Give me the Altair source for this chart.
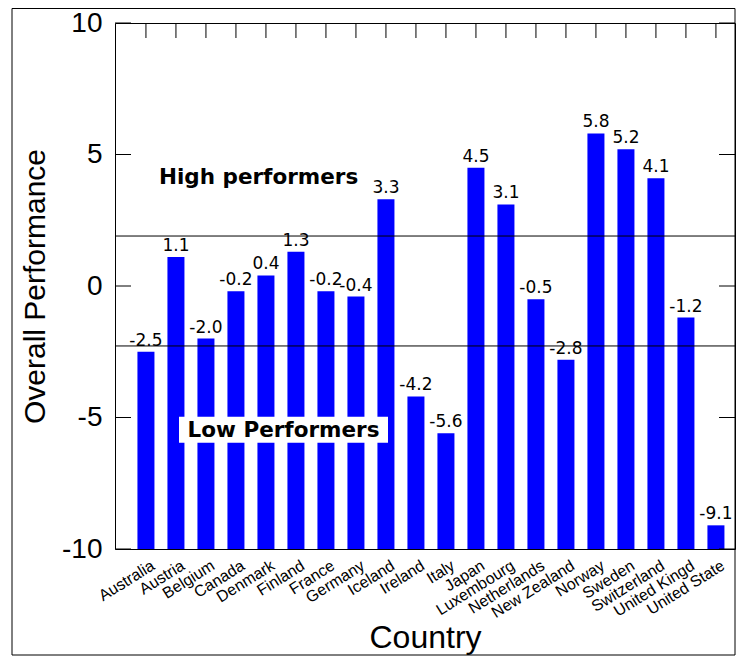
import altair as alt
import pandas as pd

countries = ["Australia", "Austria", "Belgium", "Canada", "Denmark", "Finland",
             "France", "Germany", "Iceland", "Ireland", "Italy", "Japan",
             "Luxembourg", "Netherlands", "New Zealand", "Norway", "Sweden",
             "Switzerland", "United Kingd", "United State"]
values = [-2.5, 1.1, -2.0, -0.2, 0.4, 1.3, -0.2, -0.4, 3.3, -4.2, -5.6, 4.5,
          3.1, -0.5, -2.8, 5.8, 5.2, 4.1, -1.2, -9.1]
y_ticks = [-10, -5, 0, 5, 10]
thresholds = [1.9, -2.28]
annot_high = ["High performers"]
annot_low = ["Low Performers"]

W, H = 620, 526

df = pd.DataFrame({"country": countries, "value": values,
                   "label": [f"{v:.1f}" for v in values]})
ticks_df = pd.DataFrame({"tick": y_ticks})
thr_df = pd.DataFrame({"thr": thresholds})

yscale = alt.Scale(domain=[-10, 10], nice=False, zero=False)
xscale = alt.Scale(paddingInner=0.433, paddingOuter=0.55, align=0.68)

x_enc = alt.X("country:N", sort=None, scale=xscale,
              axis=alt.Axis(labelAngle=328, labelAlign="right", labelBaseline="top",
                            labelFontSize=16, labelFont="Liberation Sans",
                            labelPadding=8, labelOffset=3, labelColor="black",
                            ticks=False, domain=False, grid=False,
                            title="Country", titleFontSize=32,
                            titleFont="Liberation Sans", titleFontWeight="normal",
                            titleColor="black", titleY=88, titleBaseline="middle"))

bars = alt.Chart(df).mark_bar(color="#0000FF").encode(
    x=x_enc,
    y=alt.Y("value:Q", scale=yscale,
            axis=alt.Axis(values=y_ticks, ticks=False, domain=False, grid=False,
                          labelFontSize=28, labelFont="Liberation Sans",
                          labelColor="black", labelPadding=13,
                          labelExpr="'' + datum.value",
                          title="Overall Performance", titleFontSize=30,
                          titleFont="Liberation Sans", titleFontWeight="normal",
                          titleColor="black", titleX=-80, titleY=H / 2,
                          titleAngle=270, titleAlign="center",
                          titleBaseline="middle")),
    y2=alt.datum(-10),
)

labels = alt.Chart(df).mark_text(font="DejaVu Sans", fontSize=17, color="black",
                                 baseline="alphabetic", dy=-6).encode(
    x=alt.X("country:N", sort=None, scale=xscale),
    y=alt.Y("value:Q", scale=yscale),
    text="label:N",
)

top_ticks = alt.Chart(df).mark_rule(color="black", strokeWidth=1).encode(
    x=alt.X("country:N", sort=None, scale=xscale),
    y=alt.value(0), y2=alt.value(15),
)

left_ticks = alt.Chart(ticks_df).mark_rule(color="black", strokeWidth=1).encode(
    y=alt.Y("tick:Q", scale=yscale), x=alt.value(0), x2=alt.value(16))
right_ticks = alt.Chart(ticks_df).mark_rule(color="black", strokeWidth=1).encode(
    y=alt.Y("tick:Q", scale=yscale), x=alt.value(W - 16), x2=alt.value(W))

thr_lines = alt.Chart(thr_df).mark_rule(color="black", strokeWidth=1).encode(
    y=alt.Y("thr:Q", scale=yscale), x=alt.value(0), x2=alt.value(W))

high_txt = alt.Chart(pd.DataFrame({"t": annot_high, "y": [3.87]})).mark_text(
    font="DejaVu Sans", fontWeight="bold", fontSize=21.5, color="black",
    align="left", baseline="alphabetic").encode(
    x=alt.value(44), y=alt.Y("y:Q", scale=yscale), text="t:N")

low_box = alt.Chart(pd.DataFrame({"y": [-4.97], "y2": [-5.96]})).mark_rect(
    color="white").encode(
    x=alt.value(64), x2=alt.value(273),
    y=alt.Y("y:Q", scale=yscale), y2="y2:Q")

low_txt = alt.Chart(pd.DataFrame({"t": annot_low, "y": [-5.5]})).mark_text(
    font="DejaVu Sans", fontWeight="bold", fontSize=21.5, color="black",
    align="center", baseline="middle").encode(
    x=alt.value(168.5), y=alt.Y("y:Q", scale=yscale), text="t:N")

frame = alt.Chart(pd.DataFrame({"f": [0]})).mark_rect(
    fillOpacity=0, stroke="black", strokeWidth=1).encode(
    x=alt.value(-103), x2=alt.value(W), y=alt.value(-14.5), y2=alt.value(632))

chart = alt.layer(
    bars, thr_lines, low_box, low_txt, high_txt, labels, top_ticks,
    left_ticks, right_ticks, frame
).properties(
    width=W, height=H,
    padding={"left": 3, "top": 0, "right": 0, "bottom": 0},
    background="white",
).configure_view(stroke="black", strokeWidth=1)

chart.save("out.html", embed_options={"renderer": "svg", "actions": False})
